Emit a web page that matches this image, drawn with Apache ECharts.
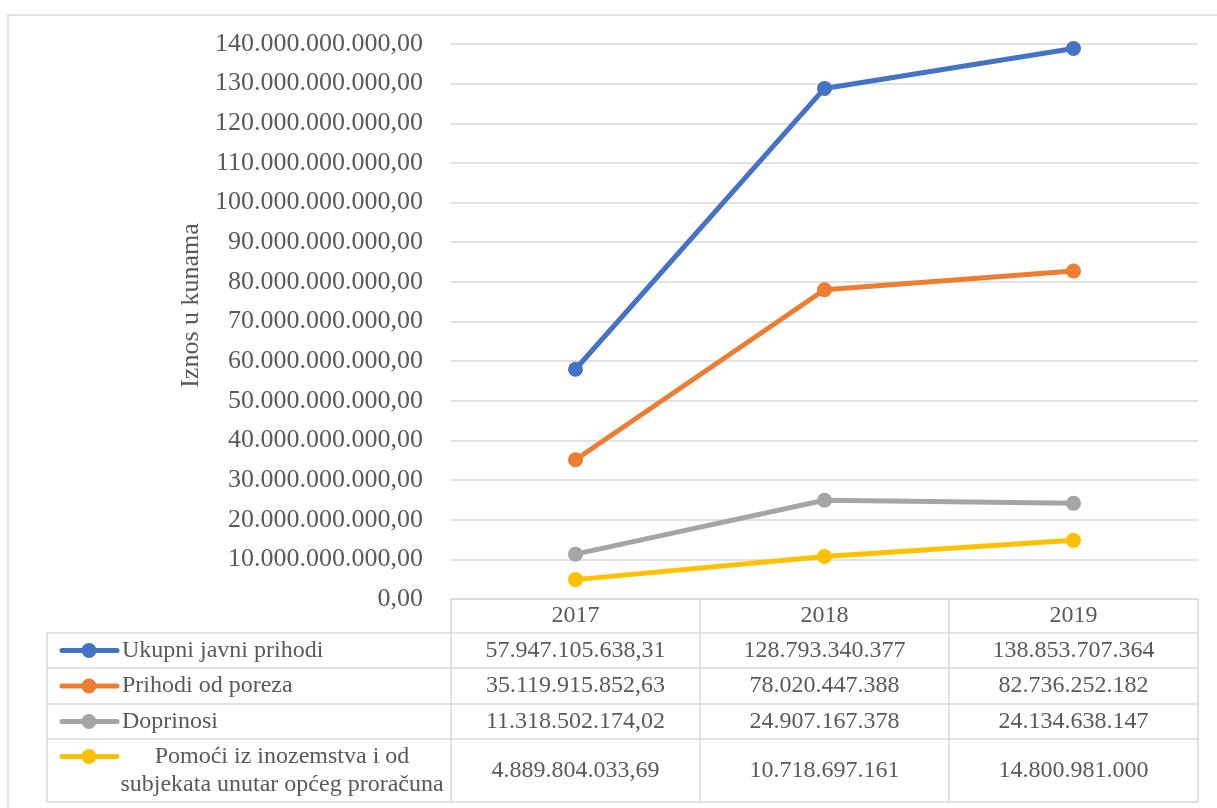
<!DOCTYPE html>
<html>
<head>
<meta charset="utf-8">
<script src="https://cdn.jsdelivr.net/npm/echarts@6/dist/echarts.min.js"></script>
<style>
html,body{margin:0;padding:0;background:#fff;}
#chart{width:1217px;height:808px;}
</style>
</head>
<body>
<div id="chart"></div>
<script>
// ---- data ----
const years = ['2017', '2018', '2019'];
const seriesNames = [
  'Ukupni javni prihodi',
  'Prihodi od poreza',
  'Doprinosi',
  'Pomoći iz inozemstva i od\nsubjekata unutar općeg proračuna'
];
const ukupniJavniPrihodi = [57947105638.31, 128793340377, 138853707364];
const prihodiOdPoreza = [35119915852.63, 78020447388, 82736252182];
const doprinosi = [11318502174.02, 24907167378, 24134638147];
const pomoci = [4889804033.69, 10718697161, 14800981000];
const decimalsPerYear = [2, 0, 0];
const yMin = 0, yMax = 140000000000, yInterval = 10000000000;
const colors = ['#4472C4', '#ED7D31', '#A5A5A5', '#FFC000'];

const allSeries = [ukupniJavniPrihodi, prihodiOdPoreza, doprinosi, pomoci];

function fmt(v, dec) {
  const s = v.toFixed(dec);
  const parts = s.split('.');
  const intPart = parts[0].replace(/\B(?=(\d{3})+(?!\d))/g, '.');
  return parts.length > 1 ? intPart + ',' + parts[1] : intPart;
}

const FONT = 'Liberation Serif';
const TXT = '#595959';
const LINE = '#D9D9D9';

const chart = echarts.init(document.getElementById('chart'), null, {renderer: 'canvas'});

const gridLeft = 451, gridRight = 1217 - 1198, gridTop = 44, gridBottom = 808 - 599;

chart.setOption({
  backgroundColor: '#fff',
  animation: false,
  grid: {left: gridLeft, right: gridRight, top: gridTop, bottom: gridBottom, containLabel: false},
  xAxis: {
    type: 'category',
    data: years,
    boundaryGap: true,
    axisLine: {show: true, lineStyle: {color: LINE, width: 1.5}},
    axisTick: {show: true, length: 203, lineStyle: {color: LINE, width: 1.5}},
    axisLabel: {color: TXT, fontFamily: FONT, fontSize: 24, margin: 5}
  },
  yAxis: {
    type: 'value',
    min: yMin, max: yMax, interval: yInterval,
    name: 'Iznos u kunama',
    nameLocation: 'middle',
    nameGap: 237,
    nameTextStyle: {color: TXT, fontFamily: FONT, fontSize: 26, padding: [0, 0, 0, 32]},
    axisLine: {show: false},
    axisTick: {show: false},
    splitLine: {show: true, lineStyle: {color: LINE, width: 1.5}},
    axisLabel: {
      color: TXT, fontFamily: FONT, fontSize: 26, margin: 28,
      formatter: v => fmt(v, 2)
    }
  },
  series: allSeries.map((d, i) => ({
    name: seriesNames[i].replace('\n', ' '),
    type: 'line',
    data: d,
    symbol: 'circle',
    symbolSize: 15,
    showSymbol: true,
    lineStyle: {color: colors[i], width: 5, cap: 'round'},
    itemStyle: {color: colors[i]},
    z: 10 - i
  }))
});

// ---- data table (drawn from the arrays, aligned to the category axis) ----
const rowLines = [633, 668, 704, 739, 802];
const tableLeft = 47;
const tableRight = 1198;
const graphics = [];

// outer chart border
graphics.push({type: 'rect', shape: {x: 8, y: 15, width: 1230, height: 820},
  style: {fill: 'none', stroke: LINE, lineWidth: 1.5}, silent: true});

rowLines.forEach(y => {
  graphics.push({type: 'line', shape: {x1: tableLeft, y1: y, x2: tableRight, y2: y},
    style: {stroke: LINE, lineWidth: 1.5}, silent: true});
});
graphics.push({type: 'line', shape: {x1: tableLeft, y1: rowLines[0], x2: tableLeft, y2: rowLines[rowLines.length - 1]},
  style: {stroke: LINE, lineWidth: 1.5}, silent: true});

allSeries.forEach((d, i) => {
  const yTop = rowLines[i], yBot = rowLines[i + 1];
  const yc = (yTop + yBot) / 2;
  const multi = seriesNames[i].indexOf('\n') >= 0;
  const keyY = multi ? yc - 14 : yc;
  // key
  graphics.push({type: 'line', shape: {x1: 62, y1: keyY, x2: 117, y2: keyY},
    style: {stroke: colors[i], lineWidth: 5, lineCap: 'round'}, silent: true});
  graphics.push({type: 'circle', shape: {cx: 89, cy: keyY, r: 7.5},
    style: {fill: colors[i]}, silent: true});
  // name
  if (multi) {
    graphics.push({type: 'text', x: 282, y: yc,
      style: {text: seriesNames[i], fill: TXT, fontFamily: FONT, fontSize: 24,
        align: 'center', verticalAlign: 'middle', lineHeight: 28}, silent: true});
  } else {
    graphics.push({type: 'text', x: 122, y: yc,
      style: {text: seriesNames[i], fill: TXT, fontFamily: FONT, fontSize: 24,
        align: 'left', verticalAlign: 'middle'}, silent: true});
  }
  // values
  d.forEach((v, j) => {
    const xc = chart.convertToPixel({xAxisIndex: 0}, years[j]);
    graphics.push({type: 'text', x: xc, y: yc,
      style: {text: fmt(v, decimalsPerYear[j]), fill: TXT, fontFamily: FONT, fontSize: 24,
        align: 'center', verticalAlign: 'middle'}, silent: true});
  });
});

chart.setOption({graphic: graphics});
</script>
</body>
</html>
